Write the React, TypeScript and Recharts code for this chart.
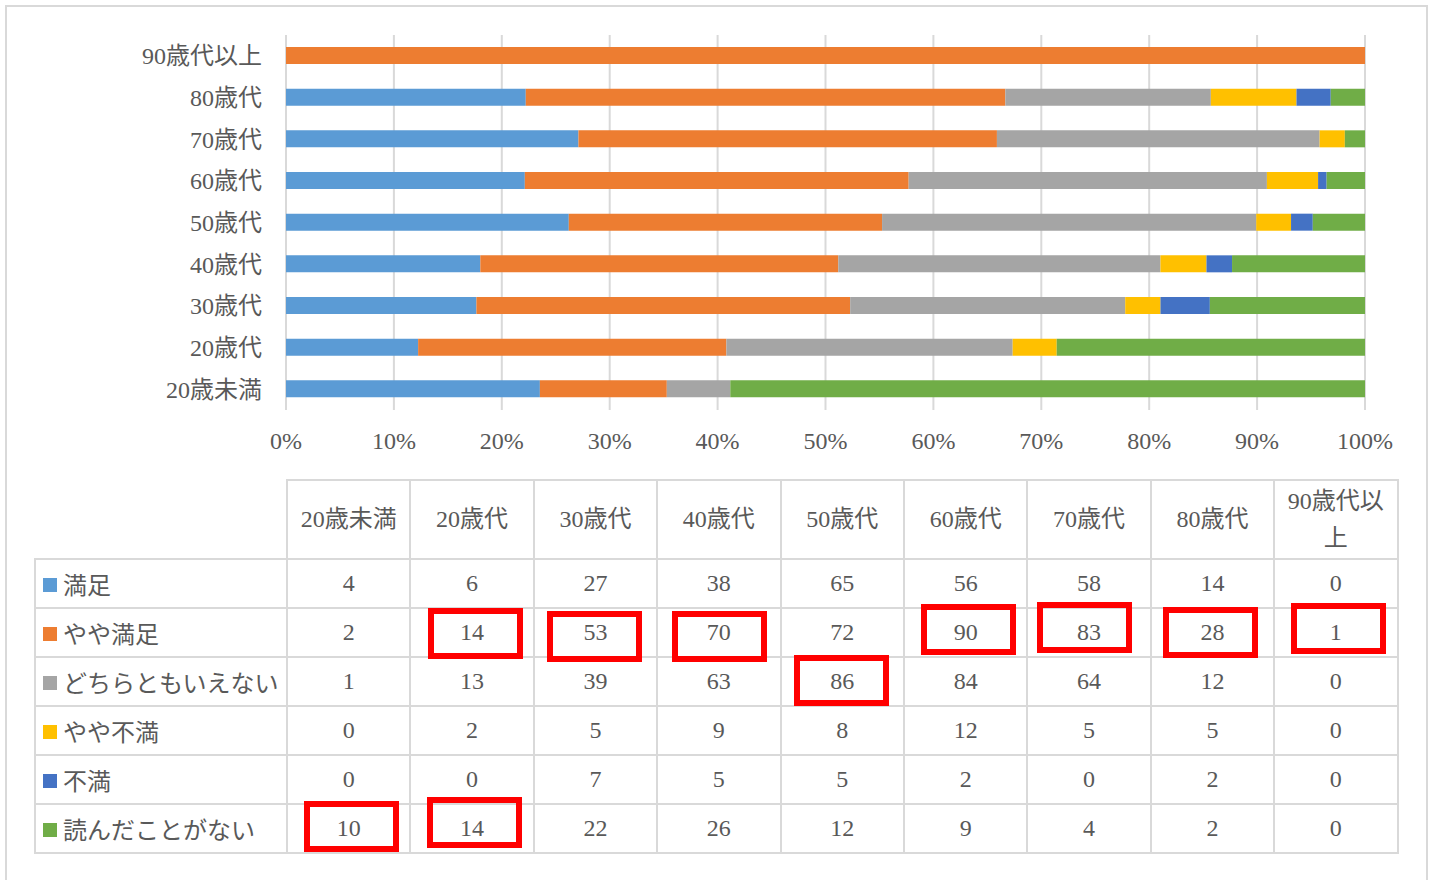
import { BarChart, Bar, XAxis, YAxis, CartesianGrid } from "recharts";

const ageGroups = ["20歳未満", "20歳代", "30歳代", "40歳代", "50歳代", "60歳代", "70歳代", "80歳代", "90歳代以上"];
const seriesNames = ["満足", "やや満足", "どちらともいえない", "やや不満", "不満", "読んだことがない"];
const seriesColors = ["#5b9bd5", "#ed7d31", "#a5a5a5", "#ffc000", "#4472c4", "#70ad47"];

const manzoku = [4, 6, 27, 38, 65, 56, 58, 14, 0];
const yayaManzoku = [2, 14, 53, 70, 72, 90, 83, 28, 1];
const dochiramo = [1, 13, 39, 63, 86, 84, 64, 12, 0];
const yayaFuman = [0, 2, 5, 9, 8, 12, 5, 5, 0];
const fuman = [0, 0, 7, 5, 5, 2, 0, 2, 0];
const yondaKotoNai = [10, 14, 22, 26, 12, 9, 4, 2, 0];

const seriesValues = [manzoku, yayaManzoku, dochiramo, yayaFuman, fuman, yondaKotoNai];
const percentTicks = [0, 0.1, 0.2, 0.3, 0.4, 0.5, 0.6, 0.7, 0.8, 0.9, 1];

// cells circled in red: [series index, age index, dx, dy]
const highlights: [number, number, number, number][] = [
  [1, 1, 3, 0],
  [1, 2, -1, 3],
  [1, 3, 0, 3],
  [2, 4, -1, -2],
  [1, 5, 2, -4],
  [1, 6, -5, -6],
  [1, 7, -2, -1],
  [1, 8, 2, -5],
  [5, 0, 2, -3],
  [5, 1, 2, -7],
];

const chartData = ageGroups
  .map((age, i) => {
    const row: Record<string, string | number> = { age };
    seriesNames.forEach((name, s) => {
      row[name] = seriesValues[s][i];
    });
    return row;
  })
  .reverse();

const FONT = '"Liberation Serif", "Noto Sans CJK JP", serif';
const TEXT = "#595959";
const LINE = "2px solid #d9d9d9";

function DataTable() {
  const cell = {
    border: LINE,
    textAlign: "center" as const,
    verticalAlign: "middle" as const,
    padding: 0,
    height: 47,
    position: "relative" as const,
  };
  return (
    <table
      style={{
        position: "absolute",
        left: 34,
        top: 479,
        width: 1363,
        borderCollapse: "collapse",
        tableLayout: "fixed",
        fontSize: 24,
        color: TEXT,
        fontFamily: FONT,
      }}
    >
      <colgroup>
        <col style={{ width: 252 }} />
        {ageGroups.map((a) => (
          <col key={a} style={{ width: 123.4 }} />
        ))}
      </colgroup>
      <thead>
        <tr>
          <th style={{ borderRight: LINE, borderBottom: LINE, padding: 0, height: 77 }} />
          {ageGroups.map((a) => (
            <th key={a} style={{ ...cell, height: 77, fontWeight: "normal", lineHeight: "37px" }}>
              <span style={{ display: "inline-block", maxWidth: 100 }}>{a}</span>
            </th>
          ))}
        </tr>
      </thead>
      <tbody>
        {seriesNames.map((name, s) => (
          <tr key={name}>
            <td style={{ ...cell, textAlign: "left", paddingLeft: 7, whiteSpace: "nowrap" }}>
              <span
                style={{
                  display: "inline-block",
                  width: 14,
                  height: 14,
                  background: seriesColors[s],
                  marginRight: 6,
                  verticalAlign: "2px",
                }}
              />
              {name}
            </td>
            {seriesValues[s].map((v, i) => {
              const h = highlights.find((x) => x[0] === s && x[1] === i);
              return (
                <td key={i} style={cell}>
                  {v}
                  {h && (
                    <div
                      style={{
                        position: "absolute",
                        left: `calc(50% - 47px + ${h[2]}px)`,
                        top: `calc(50% - 25px + ${h[3]}px)`,
                        width: 95,
                        height: 51,
                        border: "6px solid #ff0000",
                        boxSizing: "border-box",
                      }}
                    />
                  )}
                </td>
              );
            })}
          </tr>
        ))}
      </tbody>
    </table>
  );
}

export default function App() {
  return (
    <div
      style={{
        position: "absolute",
        left: 0,
        top: 0,
        width: 1432,
        height: 880,
        overflow: "hidden",
        background: "#ffffff",
        fontFamily: FONT,
      }}
    >
      <div
        style={{
          position: "absolute",
          left: 5,
          top: 5,
          width: 1419,
          height: 900,
          border: "2px solid #d9d9d9",
        }}
      />
      <div style={{ position: "absolute", left: 0, top: 0 }}>
        <BarChart
          width={1432}
          height={470}
          data={chartData}
          layout="vertical"
          stackOffset="expand"
          barSize={17}
          margin={{ top: 35, right: 67, bottom: 0, left: 0 }}
        >
          <CartesianGrid horizontal={false} stroke="#d9d9d9" strokeWidth={2} />
          <XAxis
            type="number"
            domain={[0, 1]}
            ticks={percentTicks}
            tickFormatter={(v: number) => `${Math.round(v * 100)}%`}
            axisLine={false}
            tickLine={false}
            tickSize={0}
            tickMargin={22}
            height={60}
            tick={{ fill: TEXT, fontSize: 24 }}
          />
          <YAxis
            type="category"
            dataKey="age"
            width={286}
            axisLine={false}
            tickLine={false}
            tickSize={0}
            tickMargin={24}
            tick={{ fill: TEXT, fontSize: 24 }}
          />
          {seriesNames.map((name, s) => (
            <Bar
              key={name}
              dataKey={name}
              stackId="a"
              fill={seriesColors[s]}
              isAnimationActive={false}
            />
          ))}
        </BarChart>
      </div>
      <DataTable />
    </div>
  );
}
